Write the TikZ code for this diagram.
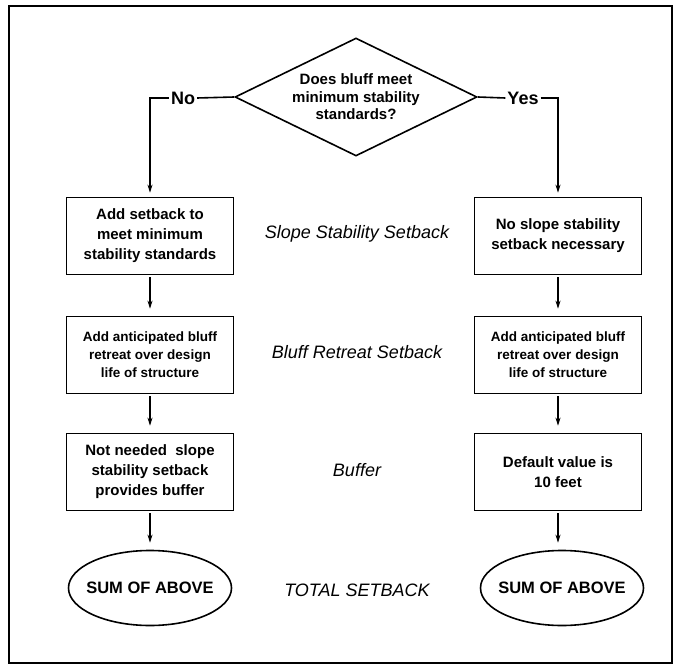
\documentclass[tikz,border=0pt]{standalone}
\usepackage{fontspec}
\setmainfont{Liberation Sans}
\usepackage{tikz}
\usetikzlibrary{arrows.meta,positioning,shapes.geometric}

\begin{document}
\begin{tikzpicture}[x=1pt, y=-1pt,
  block/.style={draw=black, line width=1.6pt, align=center, inner sep=0pt,
    minimum width=167pt, minimum height=77pt,
    font=\bfseries\fontsize{15}{20}\selectfont},
  smallblock/.style={block, font=\bfseries\fontsize{13.5}{18}\selectfont},
  decision/.style={draw=black, line width=1.6pt, diamond, aspect=2,
    align=center, inner sep=0pt, minimum width=242pt, minimum height=118pt,
    font=\bfseries\fontsize{15}{17.5}\selectfont},
  total/.style={draw=black, line width=1.6pt, ellipse, inner xsep=-9pt,
    inner ysep=0pt, minimum width=163pt, minimum height=75pt,
    font=\bfseries\fontsize{16.5}{20}\selectfont},
  rowlabel/.style={font=\itshape\fontsize{18}{22}\selectfont},
  branch/.style={font=\bfseries\fontsize{18}{20}\selectfont, inner sep=2pt},
  flow/.style={-{Stealth[length=8pt,width=5pt]}, line width=1.6pt,
    shorten <=2pt, shorten >=7pt},
  link/.style={line width=1.6pt}
]
\useasboundingbox (0,0) rectangle (682,668);
\draw[line width=1.2pt] (9,6) rectangle (672,663);

% question and branches
\node[decision] (question) at (356,97) {Does bluff meet\\minimum stability\\standards?};
\node[branch] (no) at (183,98) {No};
\node[branch] (yes) at (523,98) {Yes};

% left column
\node[block] (nomeet) at (150,236) {Add setback to\\meet minimum\\stability standards};
\node[smallblock] (noretreat) at (150,355) {Add anticipated bluff\\retreat over design\\life of structure};
\node[block] (nobuffer) at (150,472) {Not needed\ \ slope\\stability setback\\provides buffer};
\node[total] (nosum) at (150,588) {SUM OF ABOVE};

% right column
\node[block] (yesmeet) at (558,236) {No slope stability\\setback necessary};
\node[smallblock] (yesretreat) at (558,355) {Add anticipated bluff\\retreat over design\\life of structure};
\node[block] (yesbuffer) at (558,472) {Default value is\\10 feet};
\node[total] (yessum) at (562,588) {SUM OF ABOVE};

% row labels
\node[rowlabel] (lslope) at (357,234) {Slope Stability Setback};
\node[rowlabel] (lretreat) at (357,352) {Bluff Retreat Setback};
\node[rowlabel] (lbuffer) at (357,470) {Buffer};
\node[rowlabel] (ltotal) at (357,590) {TOTAL SETBACK};

\draw[link] (question.west) -- (no.east);
\draw[flow, shorten <=0pt, shorten >=4pt] (no.west) -| (nomeet.north);
\draw[link] (question.east) -- (yes.west);
\draw[flow, shorten <=0pt, shorten >=4pt] (yes.east) -| (yesmeet.north);

\draw[flow] (nomeet) -- (noretreat);
\draw[flow] (noretreat) -- (nobuffer);
\draw[flow] (nobuffer) -- (nosum);
\draw[flow] (yesmeet) -- (yesretreat);
\draw[flow] (yesretreat) -- (yesbuffer);
\draw[flow] (yesbuffer.south) -- (yesbuffer.south |- yessum.north);
\end{tikzpicture}
\end{document}
